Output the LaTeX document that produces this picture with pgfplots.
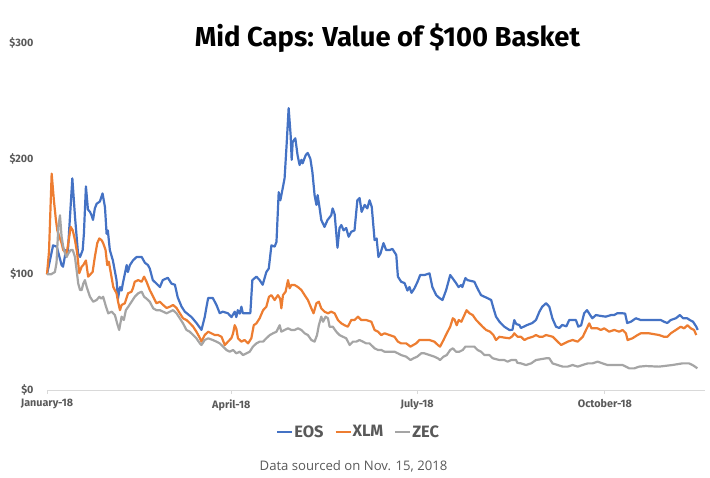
\documentclass[border=0pt]{standalone}
\usepackage{pgfplots}
\usepackage{pgfplotstable}
\pgfplotsset{compat=1.18}
\usepackage{fontspec}
\setmainfont{Fira Sans}
\newfontfamily\notefont{Open Sans}
\definecolor{eos}{HTML}{4472C4}
\definecolor{xlm}{HTML}{ED7D31}
\definecolor{zec}{HTML}{A5A5A5}
\definecolor{axgray}{HTML}{D9D9D9}
\definecolor{txtgray}{HTML}{595959}

\pgfplotstableread{
d v
0 100
3 125
4.8 124
7.2 108
7.9 106.6
9.4 121
10.3 120
12.5 183
13.8 150
15.3 118
16.3 115
17.6 121
18.2 135
19.2 176
20.2 156
21.2 154
22 151
22.7 147
23.6 157
24.5 161
26.1 163
27.4 170
28.6 158
29.4 135
30 138
31 121
32.5 112
34.3 95
35 79
36 89
36.8 86
37.4 92
39.3 108
39.9 102
40.9 108
42.4 112
44.2 115
46.7 115
48.3 110
49.8 108
50.7 105
52.2 95
54 92
55.7 89
57.1 95
59.6 97
61.4 92
63.1 91
64.5 80
66.4 72
68 67.7
71.3 63
73.7 58
76.2 52
77.8 63
78.7 72
79.5 79.5
81.8 79.5
83.6 73.5
85.2 66.4
86.7 67.7
89.2 66.4
91 63
92.6 67.7
93.4 63
94.1 69
95.1 66
95.9 72
96.6 66.4
100.3 66.4
101.3 95
103.3 98
104.9 95
106.4 91
108.2 102
109.4 105
110.7 125
112.3 124
113.2 128
114.3 171
115.1 164
116.3 174.6
117.2 183
118.2 212
119.2 243.7
120.2 220
120.7 199
121.2 214.6
122.5 217.6
123.6 203
124.6 194.5
125.5 199
126.1 196
127.6 203
128.6 205
129.9 200
130.9 188.7
132 168.5
132.9 160
133.5 168.5
134.5 157
135.3 147
136.9 141
138.4 147
140.2 151
140.9 157
141.9 152
142.7 135.6
143.3 123
144.3 140
145.2 142.6
146.3 138
147.6 140
148.8 132.5
150.1 136.8
151.7 138
153.1 164
154.2 166
155.2 154
156.7 160
158 157
159.1 164
160.2 158.4
161.6 129.6
162.6 131
163.5 115
164.5 118
166 127
167.3 121
169 121
170.4 122
172.3 116.7
173.1 98
174.7 93.6
176.4 92.4
177.8 86
178.8 89
179.8 84
181.3 88
182.8 93.6
184.1 99.4
186.2 99.4
188.7 100.8
190.1 89
192 82
193.6 79.5
195.1 77.8
196.9 86.4
198.9 99.4
200 96.8
201.8 92.4
203 89
204.3 90.7
204.9 89
206.4 96.8
207.4 95
210.8 93.6
212.3 88
214.1 82
215.8 80.6
217.2 79.5
219.1 77.8
220.2 70.9
221.5 63.4
223.2 59
225.6 54.7
228.1 51.9
229.6 52
230.5 60.5
231.5 57
233 56.2
233.8 53.6
236.9 56.2
239.4 57.9
241.2 60.5
242.9 67.7
244.3 72
246.2 75
247.8 72
249.3 62
251.1 54.7
252.7 53.6
254.2 56.2
256.2 55
257.6 60.5
260.9 60.5
262.1 54.7
263.5 56
265 66.4
266.4 69
267.5 66
269 62
270.8 64.8
273.2 64
275.7 63.4
278.2 64.8
279.8 64.8
281.4 66.4
283.7 66.4
285.2 66
286.2 57.9
288 59
290.5 62
292.9 60.5
297 60.5
302.8 60.5
304.4 59
306 57.9
307.7 60.5
310.2 62
312.2 64.8
313.8 62
315.8 62
317.1 60.5
318.7 59
320.3 54.7
321 51.9
}\eostable

\pgfplotstableread{
d v
0 100
1 120
2.3 187
3.4 164
4.4 147
5.1 138
6.2 132
7.2 127
8 121
9.7 118
10.5 127
11.7 141
12.7 138
13.8 129.6
14.9 118
15.9 101
17.1 106.6
17.9 108
19.2 112
20.3 98
22.5 102
23.6 115
24.8 127
25.8 131
26.9 129.6
27.7 127
28.9 121
29.7 108
30.5 111
31.5 101
32.7 89
34.3 83.6
35.1 76
36 69
36.8 73.5
38.4 75
40 83.6
41.7 85
42.4 88
43.3 93.6
45 95
46.7 93.6
47.9 98
49.1 93.6
50.7 86.4
52.4 80.6
54 75
55.7 76.3
57.3 73.5
59 70.9
60.6 72
62.2 73.5
63.9 70.9
65.5 66.4
67.1 62
68.8 60.5
70.4 57.9
72.1 54.7
73.7 50.4
75.4 45
76.2 41.8
77.8 47.5
79.5 50.4
81.1 49
82.8 47.5
84.4 47.5
86.1 46
87.7 38.9
89.3 41.8
91 45
91.8 49
92.6 56
93.4 53
94.2 44.7
95.9 41.8
97.5 43.2
99.2 40.3
100.8 44.7
102 56
103.3 57.6
104.9 62
106.6 69
108.2 72
109.5 80.6
110.7 82
112.3 77.8
113.9 82
115 79
115.6 70.6
116.4 82
117.7 85
118.9 95
119.7 88
120.5 90.7
122.2 90.7
123.8 89
125.5 86.4
127.1 82
128.7 77.8
130.4 70.6
131.5 66.3
132.9 75
134.1 76.3
135.3 70.6
136.9 67.7
138.6 66.3
140.2 67.7
141.9 66.3
143.5 60.5
145.2 57.6
146.8 56
148.4 54.7
150.1 60.5
151.7 60.5
153.4 63.4
155 60.5
157.5 60.5
160 59
161.6 51.9
163.3 50.4
164.9 47.5
166.5 49
169 47.5
171.4 46
173.1 41.8
174.7 40.3
177.2 40.3
179.3 37.5
180.8 39
182.1 40.3
183.7 43.2
188.7 43.2
191.1 41.8
192.8 38.9
193.9 37.5
195.6 43.2
197.2 49
198.9 54.7
200.2 62
201 61
202.1 56
203.1 60.5
204.4 59
205.9 64.8
207 69
208.4 66.3
210 64.8
211.7 60.5
213.3 57.6
214.9 54.7
216.6 51.9
218.6 50.4
220.2 47.5
221.5 43.2
223.2 46
225.6 45.3
228.1 44.7
229.6 46.5
230.5 49
232.2 46
233.8 46
235.5 43.2
237.1 44.7
239.6 46
241.2 47.5
242.9 46
244.5 46
246.2 47.5
247.8 46.8
249.5 46
251.1 43.2
253.6 38.9
255.2 40.3
256.9 41.8
259.3 43.2
261.8 41.8
264.3 46
265.9 51.9
267.5 57.6
268.6 53.3
271.6 53.3
273.2 51.9
274.9 53.3
277.3 50.4
279.8 51.9
282.3 50.4
283.9 51.9
285.6 49
286.4 43.2
288.8 44.7
291.3 47.5
292.9 49
297 49
302 47.5
304.4 46
306 46
307.7 49
310.2 51.9
312.6 54.7
314.3 53.3
315.9 56
317.6 53.3
319.2 51.9
320.3 47.5
}\xlmtable

\pgfplotstableread{
d v
0 100
2 100
3.9 102
4.7 110
5.6 141
6.4 151
7.2 132.5
8 124
8.9 118
9.7 115
10.5 118
11.7 121
12.7 121
13.8 115
14.6 103.7
15.4 92
16.3 86.4
17.1 86.4
17.9 92
18.7 95
19.6 89
21.2 80.6
22.8 76.3
24.5 77.8
25.8 80.6
26.8 79
27.7 80.6
29.1 72
30.2 66.3
31.9 67.7
33.5 64.8
34.6 57.6
35.6 51.9
36.8 63.4
37.9 60.5
38.9 69
40.1 72
41.7 76.3
43.3 80.6
45 83.6
46.7 85
47.9 80.6
49.1 79
50.7 76.3
52.4 70.6
54 69
55.7 69
57.3 67.7
59 66.3
60.6 67.7
62.2 69
63.9 66.3
65.5 62
67.1 57.6
68.8 51.9
70.4 50.4
72.1 47.5
73.7 44.7
75.4 40.3
76.2 38.9
77.8 43.2
79.5 44.7
81.8 43.2
83.6 41.8
85.2 40.3
86.9 37.5
88.5 34.6
90.1 33.1
91.8 34.6
93.4 31.7
95.1 33.1
96.7 30.2
98.4 31.7
100 33.1
101.6 37.5
103.3 40.3
104.9 41.8
106.6 41.8
108.2 44.7
109.9 47.5
111.5 49
113.2 50.4
114.8 56
115.6 50.4
117.2 51.9
118.9 53.3
120.5 51.9
122.2 51.9
123.8 53.3
125.5 51.9
127.1 49
128.7 47.5
130.4 43.2
132 41.8
133.2 47.5
134.1 56
135.3 63.4
136.2 59
137.4 63.4
138.6 62
139.4 54.7
141 54.7
142.7 50.4
144.3 47.5
146 46
147.6 44.7
149.3 38.9
150.9 41.8
152.6 41.8
154.2 43.2
155.8 41.8
157.5 40.3
159.1 40.3
161.6 36
163.3 34.6
164.9 34.6
166.5 33.1
171.4 33.1
173.1 31.7
174.7 30.2
177.2 28.8
179.3 25.9
180.8 27.4
182.6 28.8
184.6 31.7
186.2 31.7
188.7 30.2
191.1 28.8
192.8 27.4
193.9 25.9
195.6 28.8
197.2 30.2
198.9 34.6
200.2 36
201.8 33.1
203.4 33.1
205.1 34.6
206.4 37.5
210.8 37.5
212.4 34.6
214.1 33.1
215.8 30.2
218.2 30.2
219.9 27.4
223.2 25.9
225.6 25.9
227.2 24.5
229 25.9
231.4 25.9
232 23.5
233.8 23
236.3 21.6
238.8 23
241.2 25.9
246.2 27.4
247.8 27.4
249.4 23
251.9 21.6
254.4 20.2
256.8 20.2
259.3 21.6
261.8 20.2
264.2 21.6
266.7 23
269.1 23
271.6 24.5
274.1 23
276.5 21.6
279.8 21.6
283.9 21.6
285.6 20.2
287.2 18.7
289.7 18.7
292.1 20.2
295.4 20.7
301.9 20.2
308.5 21.6
313.4 23
316.7 23
318.4 21.6
319.7 20.2
320.8 18.7
}\zectable

\begin{document}
\begin{tikzpicture}[x=1bp,y=1bp]
\path[use as bounding box] (0,0) rectangle (710,478);
\begin{axis}[
  at={(47bp,88bp)}, anchor=south west,
  scale only axis, width=658bp, height=347bp,
  xmin=0, xmax=324.6, ymin=0, ymax=300,
  axis lines*=left, axis line style={-},
  x axis line style={draw=axgray, line width=0.8bp},
  y axis line style={draw=none},
  xtick={0,90.9,182.6,275.2},
  xticklabels={January-18,April-18,July-18,October-18},
  ytick={0,100,200,300},
  yticklabels={\$0,\$100,\$200,\$300},
  tick align=outside, major tick length=4bp,
  xtick style={draw=axgray, line width=0.8bp},
  ytick style={draw=none},
  xtick pos=bottom, ytick pos=left,
  tick label style={font=\bfseries\fontsize{10.8}{12}\selectfont, text=txtgray},
  yticklabel style={anchor=east, xshift=-6bp},
  xticklabel style={yshift=-2bp},
  clip=false,
  line join=round,
  legend columns=3,
  legend style={at={(0.473,-0.121)}, anchor=center, draw=none, fill=none,
    font=\bfseries\fontsize{16.5}{18}\selectfont, text=txtgray,
    nodes={inner sep=1bp},
    /tikz/every even column/.append style={column sep=10bp},
    inner sep=0pt},
  legend image code/.code={\draw[#1, line width=2bp] (0bp,0bp) -- (15bp,0bp);},
  legend cell align=left,
]
\addplot[eos, line width=2.2bp] table[x=d,y=v] {\eostable};
\addlegendentry{EOS}
\addplot[xlm, line width=2.2bp] table[x=d,y=v] {\xlmtable};
\addlegendentry{XLM}
\addplot[zec, line width=2.2bp] table[x=d,y=v] {\zectable};
\addlegendentry{ZEC}
\end{axis}
\node[anchor=base] at (387.5,431) {\bfseries\fontsize{27.5}{30}\selectfont Mid Caps: Value of \$100 Basket};
\node[anchor=base, text=txtgray] at (353.5,7) {\notefont\fontsize{13.2}{15}\selectfont Data sourced on Nov. 15, 2018};
\end{tikzpicture}
\end{document}
